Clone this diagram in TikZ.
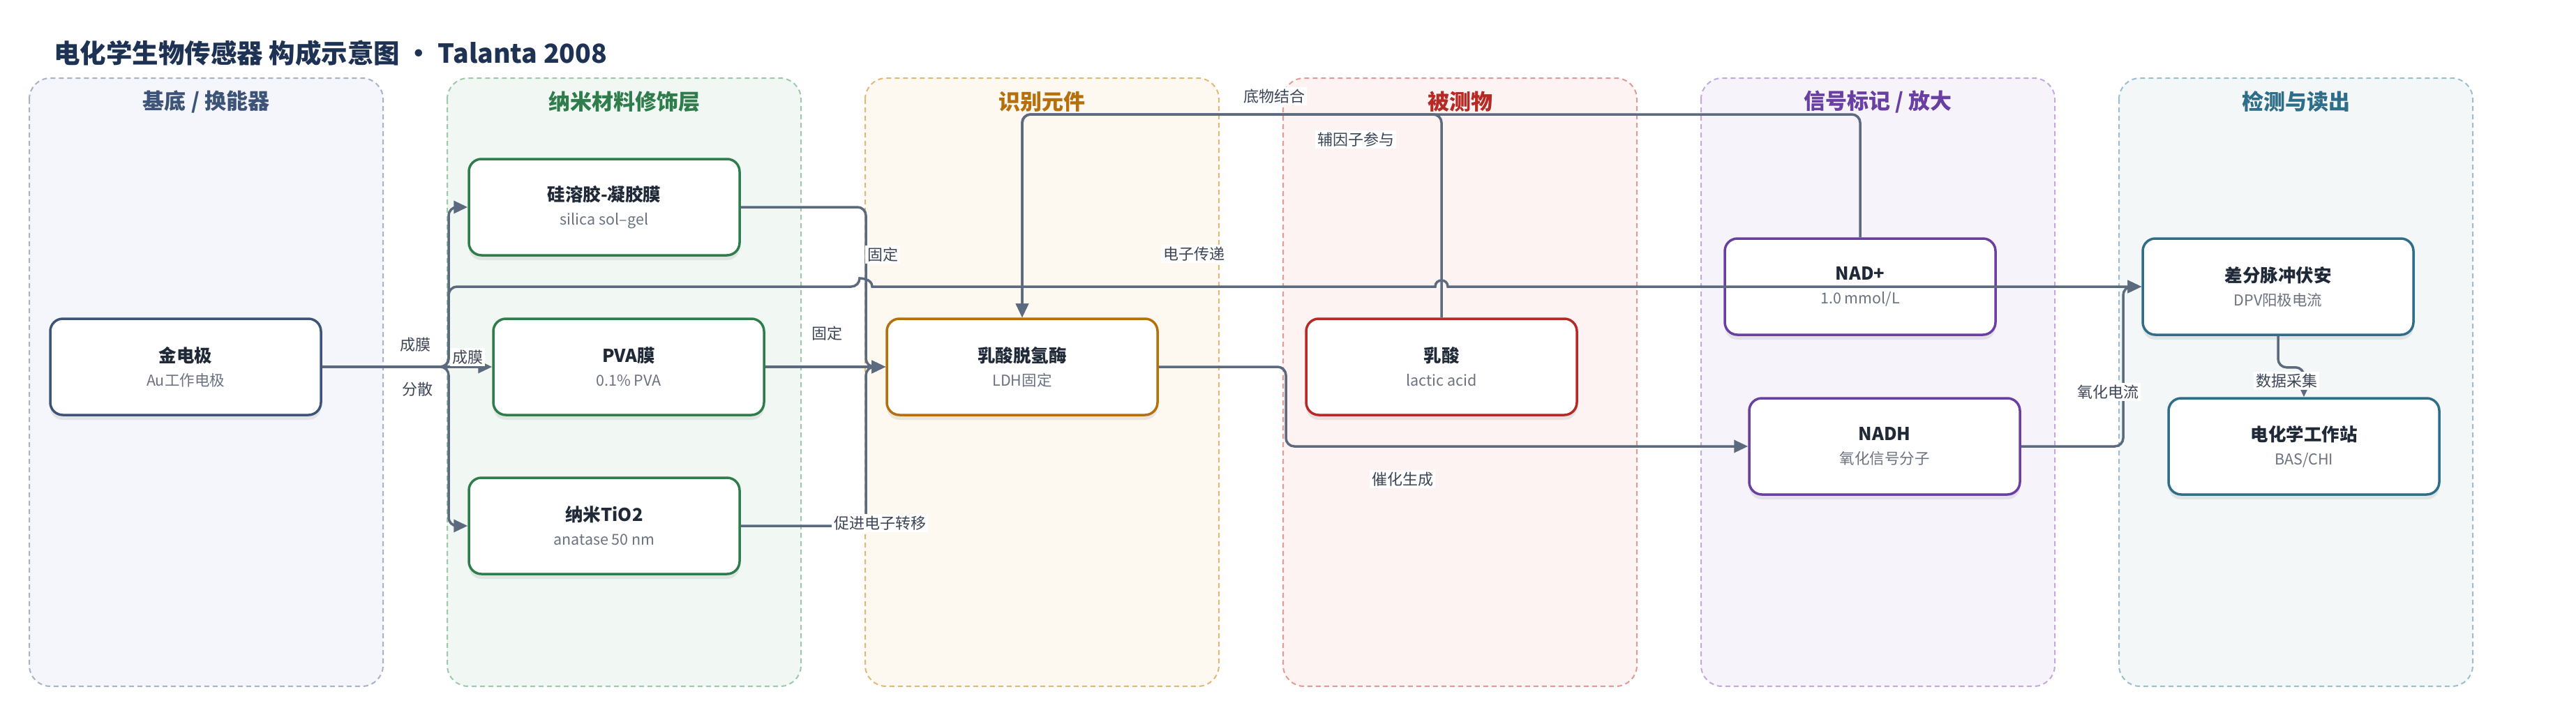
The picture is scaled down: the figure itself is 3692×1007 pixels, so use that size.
\documentclass[tikz,border=0pt]{standalone}
\usepackage{fontspec}
\setmainfont{Noto Sans CJK SC}
\usetikzlibrary{arrows.meta,shadows}

\definecolor{titleink}{HTML}{1E3354}
\definecolor{ink}{HTML}{1F2937}
\definecolor{subink}{HTML}{6B7280}
\definecolor{linkc}{HTML}{5B6A7E}
\definecolor{lblink}{HTML}{3C4656}
% lane colours: fill / dashed line / heading + card border
\definecolor{laneAfill}{HTML}{F5F6FB}\definecolor{laneAline}{HTML}{A8B3C7}\definecolor{laneAtext}{HTML}{3D5478}
\definecolor{laneBfill}{HTML}{F1F8F3}\definecolor{laneBline}{HTML}{9CC9AA}\definecolor{laneBtext}{HTML}{2E7D4B}
\definecolor{laneCfill}{HTML}{FDF8F0}\definecolor{laneCline}{HTML}{E3B877}\definecolor{laneCtext}{HTML}{B5700B}
\definecolor{laneDfill}{HTML}{FDF3F2}\definecolor{laneDline}{HTML}{E39A97}\definecolor{laneDtext}{HTML}{B52A25}
\definecolor{laneEfill}{HTML}{F6F3FB}\definecolor{laneEline}{HTML}{C3A9DF}\definecolor{laneEtext}{HTML}{6A3FA2}
\definecolor{laneFfill}{HTML}{F3F7F8}\definecolor{laneFline}{HTML}{9BC0CD}\definecolor{laneFtext}{HTML}{2F6E89}

\newcommand{\twoline}[2]{{\fontsize{25.5}{34}\selectfont\bfseries\color{ink}#1}\\{\color{subink}#2}}

\tikzset{
  lane/.style={dash pattern=on 7pt off 5pt, line width=2pt, rounded corners=30pt},
  lanehead/.style={inner sep=0pt, font=\fontsize{31}{36}\selectfont\bfseries},
  card/.style={draw, line width=3.5pt, rounded corners=18pt, fill=white,
    minimum width=388pt, minimum height=138pt, inner sep=0pt, align=center,
    font=\fontsize{21.5}{34}\selectfont,
    drop shadow={shadow xshift=0pt, shadow yshift=-7pt, opacity=0.13, fill=black!60}},
  link/.style={draw=linkc, line width=3.5pt, rounded corners=12pt,
    -{Triangle[length=20pt,width=18pt]}},
  lbl/.style={fill=white, text=lblink, inner sep=3pt, font=\fontsize{22}{26}\selectfont}
}

\begin{document}
\begin{tikzpicture}[x=1pt,y=-1pt]
\useasboundingbox (0,0) rectangle (3692,1007);

% Title
\node[anchor=base west, inner sep=0pt, text=titleink, font=\fontsize{37.5}{44}\selectfont\bfseries]
  (title) at (77,90) {电化学生物传感器 构成示意图 · Talanta 2008};

% Lanes
\foreach \k/\lx/\ttl in {A/42/{基底 / 换能器}, B/641/纳米材料修饰层, C/1240/识别元件,
                         D/1839/被测物, E/2438/{信号标记 / 放大}, F/3037/检测与读出} {
  \draw[lane, draw=lane\k line, fill=lane\k fill] (\lx,112) rectangle ++(507,872);
  \node[lanehead, text=lane\k text] (head\k) at (\lx+253.5,146) {\ttl};
}

% Cards
\node[card, draw=laneAtext] (au)  at (266,526)  {\twoline{金电极}{Au工作电极}};
\node[card, draw=laneBtext] (sil) at (866,297)  {\twoline{硅溶胶-凝胶膜}{silica sol–gel}};
\node[card, draw=laneBtext] (pva) at (901,526)  {\twoline{PVA膜}{0.1\% PVA}};
\node[card, draw=laneBtext] (tio) at (866,754)  {\twoline{纳米TiO2}{anatase 50 nm}};
\node[card, draw=laneCtext] (ldh) at (1465,526) {\twoline{乳酸脱氢酶}{LDH固定}};
\node[card, draw=laneDtext] (lac) at (2066,526) {\twoline{乳酸}{lactic acid}};
\node[card, draw=laneEtext] (nad) at (2666,411) {\twoline{NAD+}{1.0 mmol/L}};
\node[card, draw=laneEtext] (nadh) at (2701,640) {\twoline{NADH}{氧化信号分子}};
\node[card, draw=laneFtext] (dpv) at (3265,411) {\twoline{差分脉冲伏安}{DPV阳极电流}};
\node[card, draw=laneFtext] (ws)  at (3302,640) {\twoline{电化学工作站}{BAS/CHI}};

% Junctions
\coordinate (trunk) at (643,526);
\coordinate (fixj) at (1241,526);
\coordinate (topj) at (1465,164);

% Connectors
\draw[link] (au.east) -- (trunk) |- (sil.west);
\draw[link] (au.east) -- (pva.west);
\draw[link] (au.east) -- (trunk) |- (tio.west);
\draw[link] (au.east) -- (trunk) |- (1232,411) [sharp corners]
  .. controls (1232,399) and (1250,399) .. (1250,411) -- (2057,411)
  .. controls (2057,399) and (2075,399) .. (2075,411) -- (dpv.west);
\draw[link] (sil.east) -| (fixj) -- (ldh.west);
\draw[link] (pva.east) -- (ldh.west);
\draw[link] (tio.east) -| (fixj) -- (ldh.west);
\draw[link] (lac.north) |- (topj) -- (ldh.north);
\draw[link] (nad.north) |- (topj) -- (ldh.north);
\draw[link] (ldh.east) -- (1843,526) |- (nadh.west);
\draw[link] (nadh.east) -- (3043,640) |- (dpv.west);
\draw[link] (dpv.south) -- ++(0,45) -| (ws.north);

% Connector labels
\node[lbl] (lFilmA) at (595,494)   {成膜};
\node[lbl] (lFilmB) at (670,512)   {成膜};
\node[lbl] (lDisp)  at (598,558)   {分散};
\node[lbl] (lFixA)  at (1265,365)  {固定};
\node[lbl] (lFixB)  at (1185,478)  {固定};
\node[lbl] (lProm)  at (1261,750)  {促进电子转移};
\node[lbl] (lElec)  at (1711,364)  {电子传递};
\node[lbl] (lSubs)  at (1826,138)  {底物结合};
\node[lbl] (lCofa)  at (1943,200)  {辅因子参与};
\node[lbl] (lCata)  at (2010,687)  {催化生成};
\node[lbl] (lOxid)  at (3021,562)  {氧化电流};
\node[lbl] (lData)  at (3277,546)  {数据采集};
\end{tikzpicture}
\end{document}
